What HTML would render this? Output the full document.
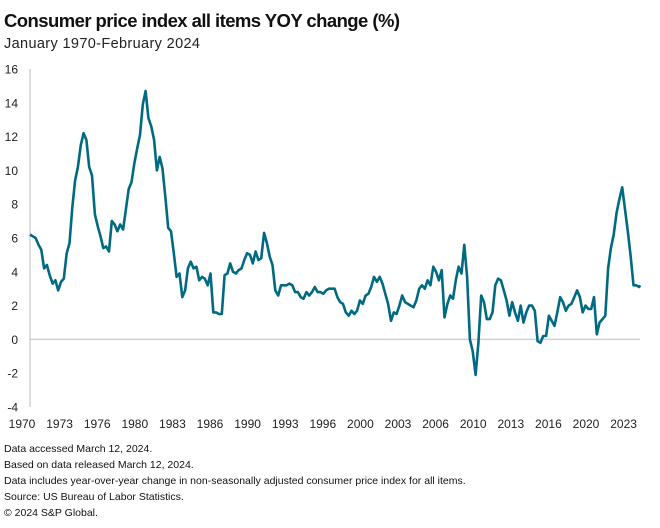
<!DOCTYPE html>
<html><head><meta charset="utf-8"><style>
body{margin:0;background:#fff;font-family:"Liberation Sans",sans-serif}
svg{display:block}
</style></head><body>
<svg width="660" height="528" xmlns="http://www.w3.org/2000/svg">
<text x="4" y="27" font-size="18.5" font-weight="bold" fill="#111" textLength="396">Consumer price index all items YOY change (%)</text>
<text x="4" y="48" font-size="14.5" fill="#222" textLength="196">January 1970-February 2024</text>
<g id="axes"></g>
<path id="line" fill="none" stroke="#006a82" stroke-width="2.6" stroke-linejoin="round"/>
<g font-size="10.5" fill="#111">
<text x="4" y="452">Data accessed March 12, 2024.</text>
<text x="4" y="468">Based on data released March 12, 2024.</text>
<text x="4" y="484">Data includes year-over-year change in non-seasonally adjusted consumer price index for all items.</text>
<text x="4" y="500">Source: US Bureau of Labor Statistics.</text>
<text x="4" y="516">© 2024 S&amp;P Global.</text>
</g>
</svg>
<script>
const yTicks=[16,14,12,10,8,6,4,2,0,-2,-4];
const xLabels=["1970","1973","1976","1980","1983","1986","1990","1993","1996","2000","2003","2006","2010","2013","2016","2020","2023"];
const startYear=1970;
// quarterly values (Jan, Apr, Jul, Oct), then Jan & Feb 2024
const cpiValues=[
6.2,6.1,6.0,5.6, 5.3,4.2,4.4,3.8, 3.3,3.5,2.9,3.4, 3.6,5.1,5.7,7.8,
9.4,10.2,11.5,12.2, 11.8,10.2,9.7,7.4, 6.7,6.1,5.4,5.5, 5.2,7.0,6.8,6.4,
6.8,6.5,7.7,8.9, 9.3,10.4,11.3,12.1, 13.9,14.7,13.1,12.6, 11.8,10.0,10.8,10.1,
8.4,6.6,6.4,5.1, 3.7,3.9,2.5,2.9, 4.2,4.6,4.2,4.3, 3.5,3.7,3.6,3.2,
3.9,1.6,1.6,1.5, 1.5,3.8,3.9,4.5, 4.0,3.9,4.1,4.2, 4.7,5.1,5.0,4.5,
5.2,4.7,4.8,6.3, 5.7,4.9,4.4,2.9, 2.6,3.2,3.2,3.2, 3.3,3.2,2.8,2.8,
2.5,2.4,2.8,2.6, 2.8,3.1,2.8,2.8, 2.7,2.9,3.0,3.0, 3.0,2.5,2.2,2.1,
1.6,1.4,1.7,1.5, 1.7,2.3,2.1,2.6, 2.7,3.1,3.7,3.4, 3.7,3.3,2.7,2.1,
1.1,1.6,1.5,2.0, 2.6,2.2,2.1,2.0, 1.9,2.3,3.0,3.2, 3.0,3.5,3.2,4.3,
4.0,3.5,4.1,1.3, 2.1,2.6,2.4,3.5, 4.3,3.9,5.6,3.7, 0.0,-0.7,-2.1,-0.2,
2.6,2.2,1.2,1.2, 1.6,3.2,3.6,3.5, 2.9,2.3,1.4,2.2, 1.6,1.1,2.0,1.0,
1.6,2.0,2.0,1.7, -0.1,-0.2,0.2,0.2, 1.4,1.1,0.8,1.6, 2.5,2.2,1.7,2.0,
2.1,2.5,2.9,2.5, 1.6,2.0,1.8,1.8, 2.5,0.3,1.0,1.2, 1.4,4.2,5.4,6.2,
7.5,8.3,9.0,7.7, 6.4,4.9,3.2,3.2, 3.1,3.2];
const NS="http://www.w3.org/2000/svg";
const x0=30,pxPerYear=11.28,yTop=69,yBot=407,vMax=16,vMin=-4;
function xScale(t){return x0+(t-startYear)*pxPerYear;}
function yScale(v){return yTop+(vMax-v)/(vMax-vMin)*(yBot-yTop);}
function tOf(i){return i<216?startYear+i*0.25:2024+(i-216)/12;}
const axes=document.getElementById('axes');
function mk(tag,attrs){const e=document.createElementNS(NS,tag);for(const k in attrs)e.setAttribute(k,attrs[k]);axes.appendChild(e);return e;}
const zl=mk('line',{x1:x0,x2:640,y1:yScale(0),y2:yScale(0),stroke:'#d0d0d0','stroke-width':1.5});


const ya=mk('line',{x1:x0,x2:x0,y1:69,y2:yBot,stroke:'#bbb','stroke-width':1});


yTicks.forEach(v=>{const t=mk('text',{x:18,y:yScale(v)+4.5,'font-size':12,'text-anchor':'end',fill:'#222'});t.textContent=v;

});
xLabels.forEach((lab,i)=>{const t=mk('text',{x:xScale(startYear+i*40/12)-8,y:428,'font-size':12,'text-anchor':'middle',fill:'#222'});t.textContent=lab;

});
document.getElementById('line').setAttribute('d',cpiValues.map((v,i)=>(i?'L':'M')+xScale(tOf(i)).toFixed(1)+' '+yScale(v).toFixed(1)).join(''));
</script>
</body></html>
